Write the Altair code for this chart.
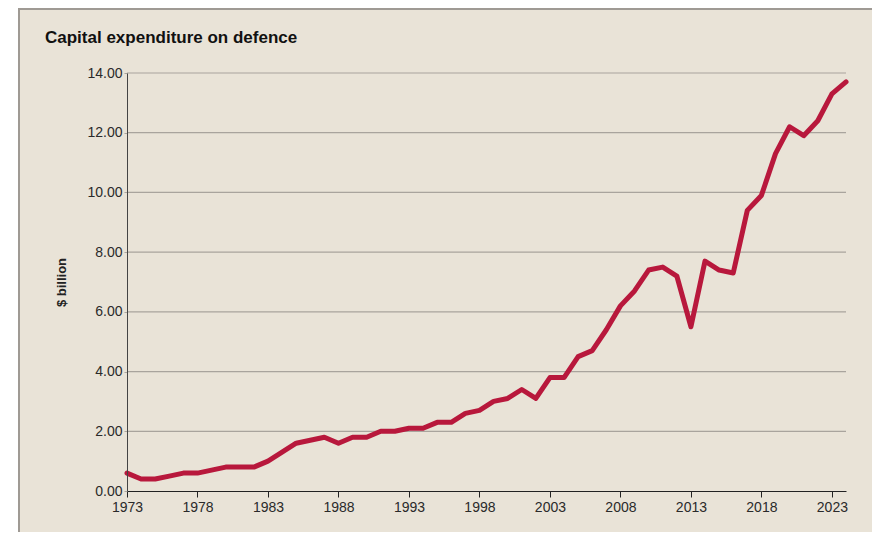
import altair as alt
import pandas as pd

years = list(range(1973, 2025))
values = [0.6, 0.4, 0.4, 0.5, 0.6, 0.6, 0.7, 0.8, 0.8, 0.8,
          1.0, 1.3, 1.6, 1.7, 1.8, 1.6, 1.8, 1.8, 2.0, 2.0,
          2.1, 2.1, 2.3, 2.3, 2.6, 2.7, 3.0, 3.1, 3.4, 3.1,
          3.8, 3.8, 4.5, 4.7, 5.4, 6.2, 6.7, 7.4, 7.5, 7.2,
          5.5, 7.7, 7.4, 7.3, 9.4, 9.9, 11.3, 12.2, 11.9, 12.4,
          13.3, 13.7]
x_ticks = [1973, 1978, 1983, 1988, 1993, 1998, 2003, 2008, 2013, 2018, 2023]
y_ticks = [0, 2, 4, 6, 8, 10, 12, 14]

df = pd.DataFrame({"year": years, "value": values})
grid_df = pd.DataFrame({"value": y_ticks[1:]})

FONT = "Liberation Sans, Arial, sans-serif"
BG = "#e9e3d7"

xscale = alt.Scale(domain=[1973, 2024], nice=False, zero=False)
yscale = alt.Scale(domain=[0, 14], nice=False)

yaxis = alt.Axis(values=y_ticks, format=".2f", title="$ billion",
                 grid=False, ticks=True,
                 domainColor="#444", tickColor="#a9a49d", tickSize=3,
                 labelPadding=2, labelFontSize=14, labelColor="#2a2a2a",
                 labelFont=FONT, titleFont=FONT, titleFontSize=13,
                 titleFontWeight="bold", titleColor="#222",
                 titlePadding=18, zindex=1)

frame = alt.Chart(pd.DataFrame({"a": [0]})).mark_rect(
    fill=BG, stroke="#9f9a94", strokeWidth=2, clip=False
).encode(
    x=alt.value(-108), x2=alt.value(749),
    y=alt.value(-64), y2=alt.value(480)
)

grid = alt.Chart(grid_df).mark_rule(color="#a9a49d", strokeWidth=1.2).encode(
    y=alt.Y("value:Q", scale=yscale, axis=yaxis),
    x=alt.value(0), x2=alt.value(719)
)

line = alt.Chart(df).mark_line(
    color="#b8183c", strokeWidth=5, strokeJoin="round", strokeCap="round"
).encode(
    x=alt.X("year:Q", scale=xscale,
            axis=alt.Axis(values=x_ticks, format="d", title=None, grid=False,
                          domainColor="#222", tickColor="#222", tickSize=6,
                          labelPadding=3, labelFontSize=14, labelColor="#2a2a2a",
                          labelFont=FONT, labelFlush=False, zindex=1)),
    y=alt.Y("value:Q", scale=yscale, axis=yaxis)
)

chart = alt.layer(frame, grid, line).properties(
    width=719, height=418,
    padding={"left": 119, "top": 65, "right": 26, "bottom": 41},
    autosize=alt.AutoSizeParams(type="none"),
    title=alt.Title("Capital expenditure on defence", anchor="start",
                    frame="group", dx=-82, offset=-39, font=FONT,
                    fontSize=17, fontWeight="bold", color="#111")
).configure(background="white").configure_view(stroke=None)

chart.save("out.html", embed_options={"renderer": "svg", "actions": False})
